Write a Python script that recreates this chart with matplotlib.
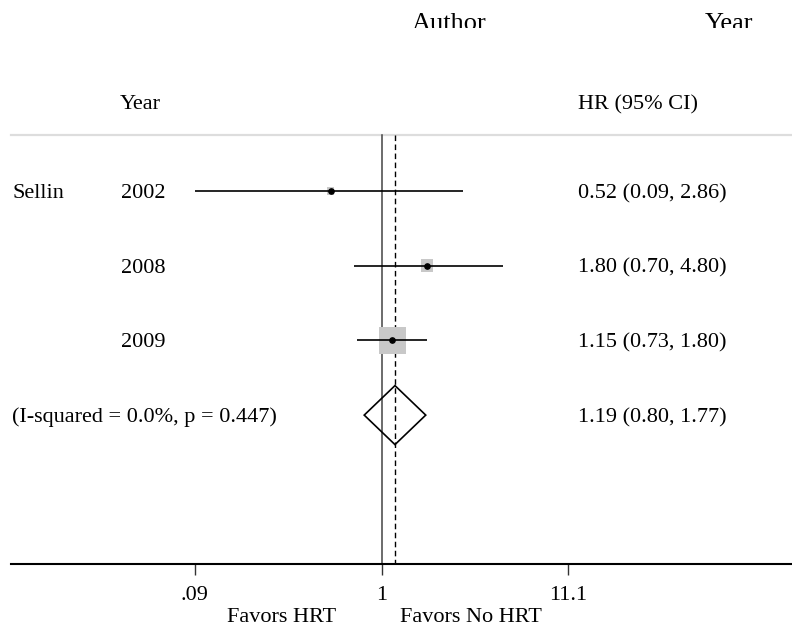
"""
Forest plot: HRT and hazard ratio, three studies plus pooled estimate.
"""
import numpy as np
import matplotlib
matplotlib.use("Agg")
import matplotlib.pyplot as plt
from matplotlib import transforms
from matplotlib.patches import Polygon, Rectangle

# study data
authors = ["Sellin", "", ""]
years = ["2002", "2008", "2009"]
hr = [0.52, 1.80, 1.15]
ci_low = [0.09, 0.70, 0.73]
ci_high = [2.86, 4.80, 1.80]
weights = [5.3, 17.0, 77.6]

# pooled estimate
pooled_hr = 1.19
pooled_low = 0.80
pooled_high = 1.77
het_label = "(I-squared = 0.0%, p = 0.447)"

tick_values = [0.09, 1, 11.1]
tick_labels = [".09", "1", "11.1"]

W, H, DPI = 792, 627, 100
ROW0, ROW_STEP = 191, 74.7          # pixel position of first row, spacing
AX_LEFT, AX_BOTTOM = 11, 564        # pixel edges of the plot region
X_CENTER, DECADE = 381.5, 178.4     # pixel of HR=1, pixels per decade

plt.rcParams["font.family"] = ["Liberation Serif", "DejaVu Serif"]
plt.rcParams["font.size"] = 16


def row_of(py):
    return (py - ROW0) / ROW_STEP


def col(px):
    return (px - AX_LEFT) / (W - AX_LEFT)


fig = plt.figure(figsize=(W / DPI, H / DPI), dpi=DPI)
ax = fig.add_axes([AX_LEFT / W, 1 - AX_BOTTOM / H, (W - AX_LEFT) / W, AX_BOTTOM / H])
ax.set_xscale("log")
ax.set_xlim(10 ** ((AX_LEFT - X_CENTER) / DECADE), 10 ** ((W - X_CENTER) / DECADE))
ax.set_ylim(row_of(AX_BOTTOM), row_of(0))

for side in ("top", "left", "right"):
    ax.spines[side].set_visible(False)
ax.spines["bottom"].set_linewidth(1.5)
ax.set_yticks([])
ax.set_xticks(tick_values)
ax.set_xticklabels(tick_labels)
ax.xaxis.set_minor_locator(matplotlib.ticker.NullLocator())
ax.tick_params(axis="x", length=8, width=1.0, color="#333333", pad=8, labelsize=16)

tr = transforms.blended_transform_factory(ax.transAxes, ax.transData)

# header separator and reference lines
sep_y = row_of(135)
ax.plot([0, 1], [sep_y, sep_y], transform=tr, color="#dddddd", lw=1.6, clip_on=False)
ax.plot([1, 1], [sep_y, row_of(AX_BOTTOM)], color="#444444", lw=1.1)
ax.plot([pooled_hr, pooled_hr], [sep_y, row_of(AX_BOTTOM)], color="black", lw=1.0,
        linestyle=(0, (4, 2.5)))

# studies
rows = np.arange(len(years))
box_side_px = 3.06 * np.sqrt(weights)
ax.hlines(rows, ci_low, ci_high, color="black", lw=1.2, zorder=3)
ax.scatter(hr, rows, marker="s", s=(box_side_px * 72 / DPI) ** 2, color="#c8c8c8",
           edgecolors="none", zorder=2)
ax.plot(hr, rows, "o", color="black", markersize=3.8, zorder=4)

# pooled diamond
prow = len(years)
half = 0.395
diamond = Polygon([(pooled_low, prow), (pooled_hr, prow - half),
                   (pooled_high, prow), (pooled_hr, prow + half)],
                  closed=True, fill=False, edgecolor="black", lw=1.2, zorder=3)
ax.add_patch(diamond)

# row texts
for i in rows:
    if authors[i]:
        ax.text(col(12), i, authors[i], transform=tr, va="center_baseline", ha="left")
    ax.text(col(121), i, years[i], transform=tr, va="center_baseline", ha="left")
    ax.text(col(578), i, f"{hr[i]:.2f} ({ci_low[i]:.2f}, {ci_high[i]:.2f})",
            transform=tr, va="center_baseline", ha="left")
ax.text(col(12), prow, het_label, transform=tr, va="center_baseline", ha="left")
ax.text(col(578), prow, f"{pooled_hr:.2f} ({pooled_low:.2f}, {pooled_high:.2f})",
        transform=tr, va="center_baseline", ha="left")

# headers
ax.text(col(120), row_of(102), "Year", transform=tr, va="center_baseline", ha="left")
ax.text(col(578), row_of(102), "HR (95% CI)", transform=tr, va="center_baseline", ha="left")

clip = Rectangle((0, 1 - 28 / H), 1, 28 / H, transform=fig.transFigure)
for px, label in [(412, "Author"), (705, "Year")]:
    t = ax.text(col(px), row_of(30), label, transform=tr, va="baseline", ha="left",
                fontsize=19, clip_on=True)
    t.set_clip_path(clip)

# favour labels below the axis
fig.text(282 / W, 1 - 622 / H, "Favors HRT", ha="center", va="baseline", fontsize=16)
fig.text(471 / W, 1 - 622 / H, "Favors No HRT", ha="center", va="baseline", fontsize=16)

fig.savefig("out.png", dpi=DPI)
